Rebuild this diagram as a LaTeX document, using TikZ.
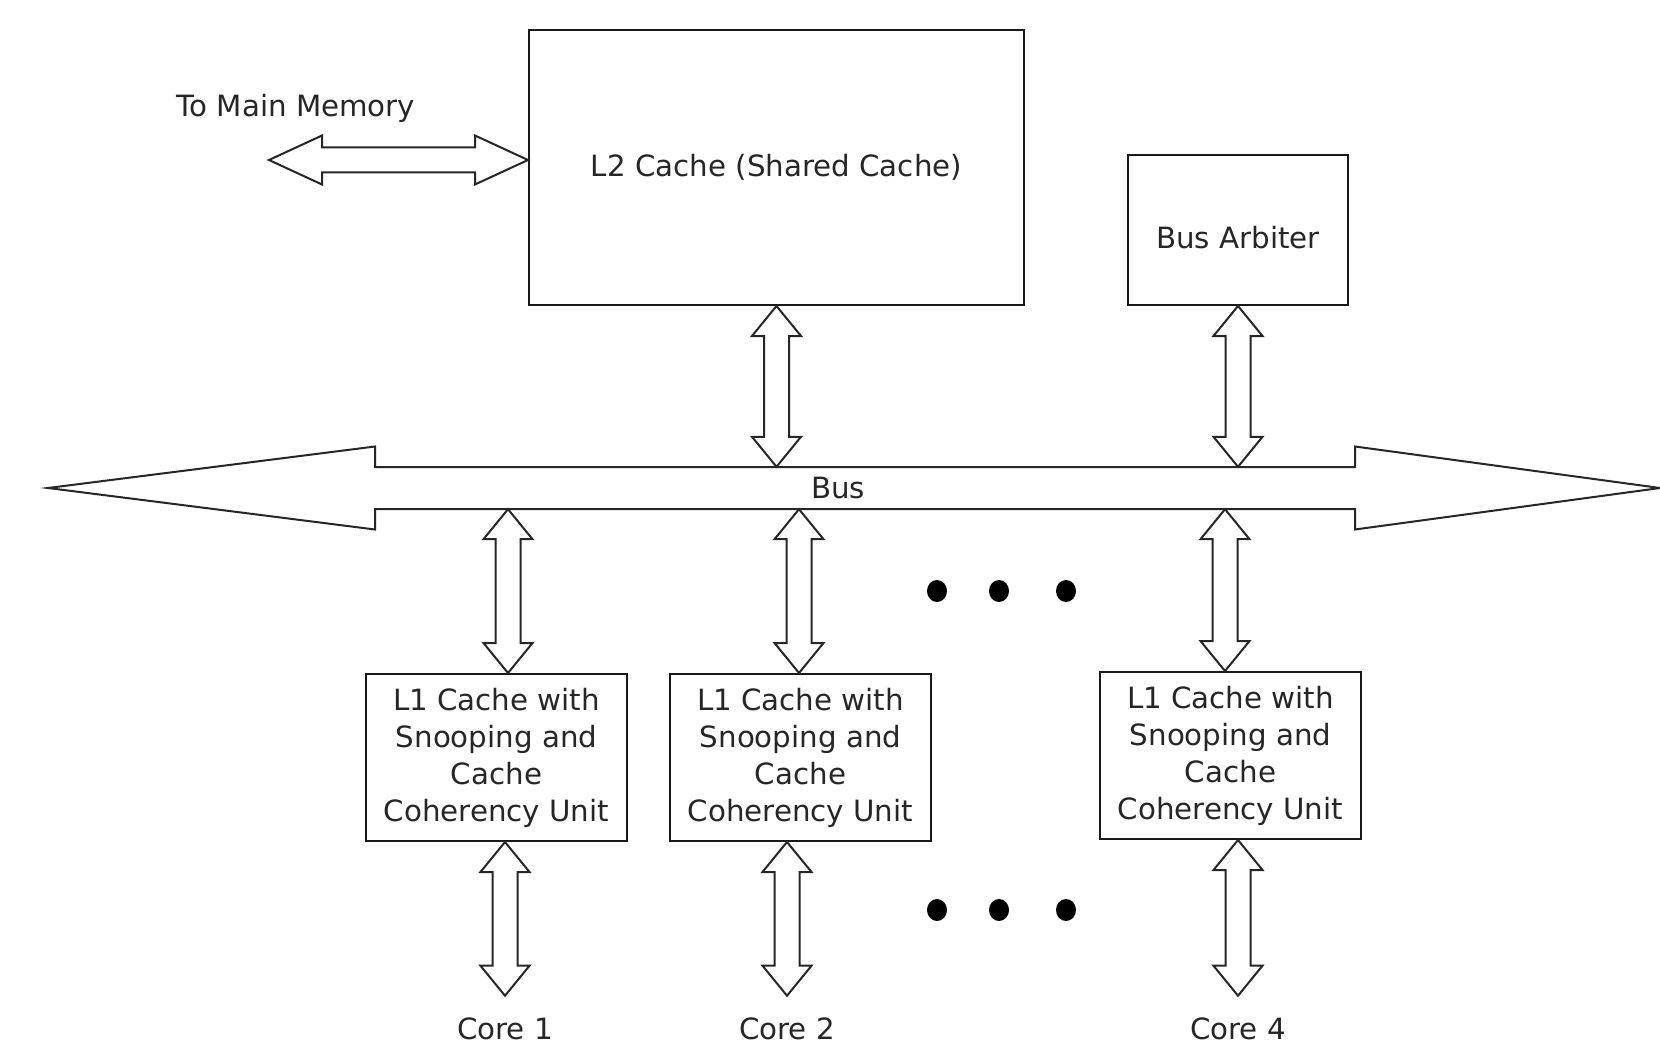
\documentclass[tikz,border=0pt]{standalone}
\usepackage{fontspec}
\setmainfont{DejaVu Sans}
\usetikzlibrary{calc,positioning}

\newcommand{\fatarrow}[6]{%
  \draw[fat] (#1) -- ($(#1)!#5!(#2)!#4!90:(#2)$) -- ($(#1)!#5!(#2)!#3!90:(#2)$)
    -- ($(#2)!#6!(#1)!#3!-90:(#1)$) -- ($(#2)!#6!(#1)!#4!-90:(#1)$) -- (#2)
    -- ($(#2)!#6!(#1)!#4!90:(#1)$) -- ($(#2)!#6!(#1)!#3!90:(#1)$)
    -- ($(#1)!#5!(#2)!#3!-90:(#2)$) -- ($(#1)!#5!(#2)!#4!-90:(#2)$) -- cycle;}

\begin{document}
\begin{tikzpicture}[x=1pt,y=-1pt,
      every node/.style={text=black!85,font=\fontsize{29.3}{37}\selectfont},
      box/.style={draw=black!90,line width=2pt,align=center},
      l1box/.style={box,minimum width=261pt,minimum height=167pt},
      fat/.style={draw=black!85,line width=2pt,fill=white,line join=miter},
      core/.style={inner ysep=22pt}]
    \useasboundingbox (0,0) rectangle (1660,1051);

    \node[box,minimum width=495pt,minimum height=275pt] (l2) at (776.5,167.5) {L2 Cache (Shared Cache)};
    \node[box,minimum width=220pt,minimum height=150pt,text height=36pt,text depth=0pt] (arb) at (1238,230) {Bus Arbiter};
    \node (mmlabel) at (296,108) {To Main Memory};
    \coordinate (mm) at (269,160);
    \fatarrow{mm}{l2.west |- mm}{12.5pt}{24.5pt}{53pt}{53pt}

    \coordinate (bw) at (48,488);
    \coordinate (be) at (1660,488);
    \fatarrow{bw}{be}{21pt}{41.5pt}{327pt}{305pt}
    \node[minimum height=42pt,inner sep=0pt] (bus) at (838,488) {Bus};

    \fatarrow{l2.south}{l2.south |- bus.north}{12.5pt}{24.5pt}{30pt}{30pt}
    \fatarrow{arb.south}{arb.south |- bus.north}{12.5pt}{24.5pt}{30pt}{30pt}

    \node[l1box] (l1-1) at (496.5,757.5) {L1 Cache with\\Snooping and\\Cache\\Coherency Unit};
    \node[l1box,right=41pt of l1-1] (l1-2) {L1 Cache with\\Snooping and\\Cache\\Coherency Unit};
    \node[l1box,right=167pt of l1-2,yshift=2pt] (l1-4) {L1 Cache with\\Snooping and\\Cache\\Coherency Unit};

    \foreach \n/\ux/\cx/\cy in {1/508/505/1029,2/799/787/1029,4/1225/1238/1029}{
      \coordinate (up\n) at (\ux,0);
      \node[core] (core\n) at (\cx,\cy) {Core \n};
      \fatarrow{up\n |- bus.south}{up\n |- l1-\n.north}{12.5pt}{24.5pt}{30pt}{30pt}
      \fatarrow{core\n.north |- l1-\n.south}{core\n.north}{12.5pt}{24.5pt}{30pt}{30pt}
    }

    \foreach \x in {937,999,1066}
      \foreach \y in {591,910}
        \fill[black] (\x,\y) circle[x radius=10pt,y radius=11pt];
\end{tikzpicture}
\end{document}
